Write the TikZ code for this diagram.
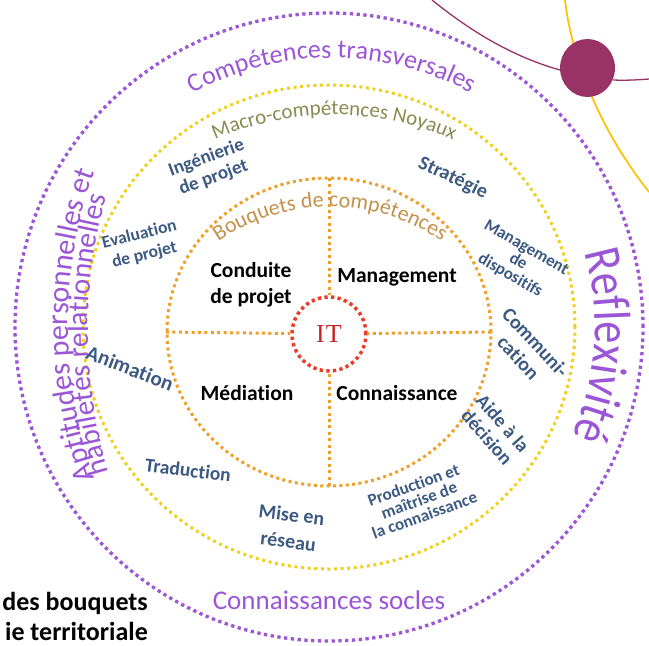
\documentclass[tikz,border=0pt]{standalone}
\usepackage{fontspec}
\setmainfont{Carlito}[Ligatures=NoCommon]
\newfontfamily\reflfont[FakeStretch=0.85,Ligatures=NoCommon]{Carlito}
\newfontfamily\itfont[LetterSpace=4]{Liberation Serif}
\usetikzlibrary{decorations.text}
\definecolor{purp}{RGB}{155,85,215}
\definecolor{yel}{RGB}{240,208,30}
\definecolor{ora}{RGB}{240,160,40}
\definecolor{redd}{RGB}{235,60,40}
\definecolor{itred}{RGB}{200,35,40}
\definecolor{bluet}{RGB}{60,90,130}
\definecolor{bouq}{RGB}{196,145,75}
\definecolor{olivet}{RGB}{135,140,80}
\definecolor{maroon}{RGB}{153,51,102}
\definecolor{goldl}{RGB}{255,192,0}
\begin{document}
\begin{tikzpicture}[x=1pt,y=1pt,
  purpdot/.style={draw=purp, line width=3.3pt, dash pattern=on 3.3pt off 3.5pt},
  yeldot/.style={draw=yel, line width=3pt, dash pattern=on 3pt off 3.6pt},
  oradot/.style={draw=ora, line width=3pt, dash pattern=on 3pt off 3.4pt},
  itcirc/.style={circle, draw=redd, line width=3.5pt, dash pattern=on 3.3pt off 3.3pt,
     minimum size=74pt, inner sep=0pt, font=\itfont\fontsize{26}{26}\selectfont, text=itred},
  quad/.style={font=\bfseries\fontsize{21.5}{26}\selectfont, align=center, text=black},
  ringtxt/.style={font=\bfseries\fontsize{20}{22}\selectfont, align=center, text=bluet, inner sep=0pt},
  bigtxt/.style={font=\fontsize{27}{27}\selectfont, text=purp},
  capt/.style={font=\bfseries\fontsize{26}{30}\selectfont, text=black, inner sep=0pt},
  arctext/.style={decorate, decoration={text along path, text align=center, #1}},
]
\useasboundingbox (0,0) rectangle (649,-646);

% decorative orbit lines (top right)
\coordinate (m1) at (432,0);
\coordinate (m2) at (560,-70);
\coordinate (m3) at (613,-80);
\coordinate (m4) at (649,-79);
\coordinate (g1) at (565,0);
\coordinate (g2) at (649,-192);
\draw[maroon, line width=1.3pt] (m1) .. controls (468,-29) and (510,-56) .. (m2);
\draw[maroon, line width=1.3pt] (m3) .. controls (625,-80.5) and (637,-80) .. (m4);
\draw[goldl, line width=1.7pt] (g1) .. controls (572,-60) and (600,-130) .. (g2);
\fill[maroon] (587.5,-68) ellipse[x radius=27.5pt, y radius=29pt];

% rings
\draw[purpdot] (329,-327) circle[radius=314pt];
\draw[yeldot] (329,-327) ellipse[x radius=246pt, y radius=242pt];
\draw[oradot] (329,-332) ellipse[x radius=162pt, y radius=154pt];

% centre
\node[itcirc] (it) at (329,-334) {IT};
\coordinate (otop) at (329,-178);
\coordinate (obot) at (329,-486);
\coordinate (olft) at (166,-332);
\coordinate (orgt) at (491,-332);
\draw[oradot] (otop) -- (it);
\draw[oradot] (obot) -- (it);
\draw[oradot] (olft) -- (it);
\draw[oradot] (orgt) -- (it);

% quadrants
\node[quad] (q1) at (251,-285) {Conduite\\de projet};
\node[quad] (q2) at (397,-277) {Management};
\node[quad] (q3) at (247,-393) {Médiation};
\node[quad] (q4) at (397,-393) {Connaissance};

% curved titles
\path[arctext={text color=purp, text={|\fontsize{26}{26}\selectfont|Compétences transversales}}]
  ([shift={(332,-350)}]160:292pt) arc[start angle=160, end angle=20, radius=292pt];
\path[arctext={text color=olivet, text={|\fontsize{21}{21}\selectfont|Macro-compétences Noyaux}}]
  ([shift={(334,-415)}]150:300pt) arc[start angle=150, end angle=30, radius=300pt];
\path[arctext={text color=bouq, text={|\fontsize{22}{22}\selectfont|Bouquets de compétences}}]
  ([shift={(330,-405)}]145:198pt) arc[start angle=145, end angle=35, radius=198pt];
\path[arctext={text color=purp, text={|\reflfont\fontsize{52}{52}\selectfont|Reflexivité}}]
  ([shift={(329,-327)}]61:266pt) arc[start angle=61, end angle=-69, radius=266pt];
\path[arctext={text color=purp, text={|\fontsize{30}{30}\selectfont|Aptitudes personnelles et}}]
  ([shift={(521,-325)}]215:453pt) arc[start angle=215, end angle=145, radius=453pt];
\path[arctext={text color=purp, text={|\fontsize{29.5}{29.5}\selectfont|habiletés relationnelles}}]
  ([shift={(580,-330)}]215:492pt) arc[start angle=215, end angle=146, radius=492pt];

\node[bigtxt] (socles) at (329,-600) {Connaissances socles};

% ring items
\node[ringtxt, rotate=20, font=\bfseries\fontsize{19}{21}\selectfont] (r1) at (210,-168) {Ingénierie\\de projet};
\node[ringtxt, rotate=-25] (r2) at (453,-178) {Stratégie};
\node[ringtxt, rotate=14, font=\bfseries\fontsize{17.5}{21}\selectfont] (r3) at (142,-245) {Evaluation\\de projet};
\node[ringtxt, rotate=-30, font=\bfseries\fontsize{17}{16}\selectfont] (r4) at (518,-262) {Management\\de\\dispositifs};
\node[ringtxt, rotate=-47, font=\bfseries\fontsize{20}{23}\selectfont] (r5) at (527,-350) {Communi-\\cation};
\node[ringtxt, rotate=-49, font=\bfseries\fontsize{19.5}{21}\selectfont] (r6) at (495,-430) {Aide à la\\décision};
\node[ringtxt, rotate=-21, font=\bfseries\fontsize{21}{22}\selectfont] (r7) at (130,-368) {Animation};
\node[ringtxt, rotate=-7, font=\bfseries\fontsize{19.5}{22}\selectfont] (r8) at (188,-470) {Traduction};
\node[ringtxt, rotate=-7, font=\bfseries\fontsize{20}{27}\selectfont] (r9) at (290,-528) {Mise en\\réseau};
\node[ringtxt, rotate=20, font=\bfseries\fontsize{17}{16}\selectfont] (r10) at (419,-500) {Production et\\maîtrise de\\la connaissance};

% caption fragments
\node[capt, anchor=base east] (c1) at (148,-610) {des bouquets};
\node[capt, anchor=base east] (c2) at (148,-640) {ie territoriale};
\end{tikzpicture}
\end{document}
